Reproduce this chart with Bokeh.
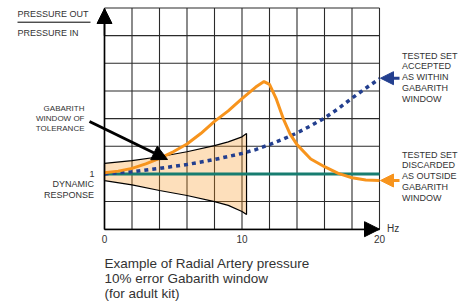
from bokeh.plotting import figure
from bokeh.models import Range1d, FixedTicker, Label, Arrow, NormalHead
from bokeh.embed import file_html
from bokeh.resources import INLINE

# ---------------- data ----------------
x_ticks = [0, 10, 20]
x_grid = [0, 2, 4, 6, 8, 10, 12, 14, 16, 18, 20]
y_ticks = [1]
y_grid = [0, 0.5, 1, 1.5, 2, 2.5, 3, 3.5, 4]

# dynamic response reference (flat = 1)
ref_freq = [0, 20]
ref_resp = [1, 1]

# gabarith window of tolerance (upper / lower limits)
win_freq = [0, 2, 4, 6, 8, 9, 10, 10.33]
win_upper = [1.19, 1.24, 1.31, 1.40, 1.51, 1.58, 1.67, 1.73]
win_lower = [0.88, 0.80, 0.70, 0.61, 0.50, 0.43, 0.32, 0.265]

# tested set accepted (blue dotted)
acc_freq = [0, 2, 4, 6, 8, 10, 11, 12, 13, 14, 15, 16, 17, 18, 19, 20]
acc_resp = [1.0, 1.04, 1.10, 1.17, 1.26, 1.37, 1.44, 1.53, 1.63, 1.74, 1.87, 2.01, 2.18, 2.37, 2.55, 2.72]

# tested set discarded (orange)
dis_freq = [0, 1, 2, 3, 4, 5, 6, 7, 8, 9, 10, 11, 11.6, 12, 12.5, 13, 13.5, 14, 15, 16, 17, 18, 19, 20]
dis_resp = [1.02, 1.05, 1.10, 1.18, 1.28, 1.40, 1.54, 1.73, 1.95, 2.14, 2.36, 2.57, 2.67, 2.62, 2.35, 2.0, 1.72, 1.53, 1.27, 1.13, 1.01, 0.93, 0.89, 0.88]

caption = ["Example of Radial Artery pressure", "10% error Gabarith window", "(for adult kit)"]

# ---------------- layout ----------------
W, H = 464, 302
XMIN, XMAX, YMIN, YMAX = 0, 20, 0, 4
X0_PX, X1_PX = 104, 379      # pixel columns of x = 0 and x = 20
Y0_PX, Y1_PX = 228.7, 7.5    # pixel rows of y = 0 and y = 4


def dx(px):
    return XMIN + (px - X0_PX) / (X1_PX - X0_PX) * (XMAX - XMIN)


def dy(py):
    return YMIN + (Y0_PX - py) / (Y0_PX - Y1_PX) * (YMAX - YMIN)


FONT = "Liberation Sans"
TXT = "#333333"
ORANGE = "#f7941d"
BLUE = "#233f8f"
TEAL = "#177d70"

p = figure(width=W, height=H, output_backend="svg", toolbar_location=None,
           x_range=Range1d(dx(0), dx(W)), y_range=Range1d(dy(H), dy(0)),
           min_border=0)
p.background_fill_color = "white"
p.border_fill_color = "white"
p.outline_line_color = None
p.grid.visible = False

# axes drawn at the data origin
p.xaxis.ticker = FixedTicker(ticks=x_ticks)
p.yaxis.ticker = FixedTicker(ticks=y_ticks)
p.xaxis.fixed_location = YMIN
p.yaxis.fixed_location = XMIN
p.xaxis.bounds = (XMIN, XMAX)
p.yaxis.bounds = (YMIN, YMAX)
for ax in (p.xaxis, p.yaxis):
    ax.axis_line_color = "black"
    ax.axis_line_width = 1.6
    ax.major_tick_out = 0
    ax.major_tick_in = 0
    ax.minor_tick_out = 0
    ax.minor_tick_in = 0
    ax.major_label_text_font = FONT
    ax.major_label_text_color = TXT
p.xaxis.major_label_text_font_size = "10px"
p.xaxis.major_label_standoff = 6
p.yaxis.major_label_text_font_size = "9px"
p.yaxis.major_label_standoff = 10

# grid lines (from the grid arrays, through the plot scales)
p.segment(x0=x_grid, y0=[YMIN] * len(x_grid), x1=x_grid, y1=[YMAX] * len(x_grid),
          line_color="#2b2b2b", line_width=1.1)
p.segment(x0=[XMIN] * len(y_grid), y0=y_grid, x1=[XMAX] * len(y_grid), y1=y_grid,
          line_color="#2b2b2b", line_width=1.1)

# window of tolerance
p.patch(win_freq + win_freq[::-1], win_upper + win_lower[::-1],
        fill_color=ORANGE, fill_alpha=0.3, line_color="black", line_width=1.2)

# curves
p.line(ref_freq, ref_resp, line_color=TEAL, line_width=3)
p.line(acc_freq, acc_resp, line_color=BLUE, line_width=3.5, line_dash="4 4")
p.line(dis_freq, dis_resp, line_color=ORANGE, line_width=3)

# axis arrow heads
p.add_layout(Arrow(end=NormalHead(size=15, fill_color="black", line_color="black"),
                   x_start=XMIN, y_start=YMAX - 0.5, x_end=XMIN, y_end=dy(8),
                   line_color="black", line_width=1.5))
p.add_layout(Arrow(end=NormalHead(size=15, fill_color="black", line_color="black"),
                   x_start=XMAX - 1, y_start=YMIN, x_end=XMAX, y_end=YMIN,
                   line_color="black", line_width=1.5))

# annotation arrows
p.add_layout(Arrow(end=NormalHead(size=15, fill_color="black", line_color="black"),
                   x_start=dx(89), y_start=dy(121), x_end=dx(167), y_end=dy(159),
                   line_color="black", line_width=3))
p.add_layout(Arrow(end=NormalHead(size=13, fill_color=BLUE, line_color=BLUE),
                   x_start=dx(399), y_start=dy(77.7), x_end=dx(380), y_end=dy(77.7),
                   line_color=BLUE, line_width=3))
p.add_layout(Arrow(end=NormalHead(size=13, fill_color=ORANGE, line_color=ORANGE),
                   x_start=dx(399), y_start=dy(180), x_end=dx(380), y_end=dy(180),
                   line_color=ORANGE, line_width=3))
# fraction bar
p.add_layout(Arrow(start=None, end=None, x_start=dx(17), y_start=dy(21.7), x_end=dx(90), y_end=dy(21.7),
                   line_color="black", line_width=1))


def lab(px, py, text, size, align="left", baseline="middle"):
    p.add_layout(Label(x=dx(px), y=dy(py), text=text, text_font=FONT, text_font_size=size,
                       text_color=TXT, text_align=align, text_baseline=baseline))


lab(17, 13, "PRESSURE OUT", "9px")
lab(17, 32.3, "PRESSURE IN", "9px")
for i, t in enumerate(["GABARITH", "WINDOW OF", "TOLERANCE"]):
    lab(84, 108.3 + 10 * i, t, "8px", "right")
lab(93.5, 183, "DYNAMIC", "9px", "right")
lab(93.5, 194.5, "RESPONSE", "9px", "right")
for i, t in enumerate(["TESTED SET", "ACCEPTED", "AS WITHIN", "GABARITH", "WINDOW"]):
    lab(401.5, 55 + 10.8 * i, t, "9px")
for i, t in enumerate(["TESTED SET", "DISCARDED", "AS OUTSIDE", "GABARITH", "WINDOW"]):
    lab(401.5, 154 + 10.9 * i, t, "9px")
lab(386.5, 227.5, "Hz", "10px")

for i, t in enumerate(caption):
    lab(104, 262.8 + 15.3 * i, t, "13.5px")

open("out.html", "w").write(file_html(p, INLINE))
